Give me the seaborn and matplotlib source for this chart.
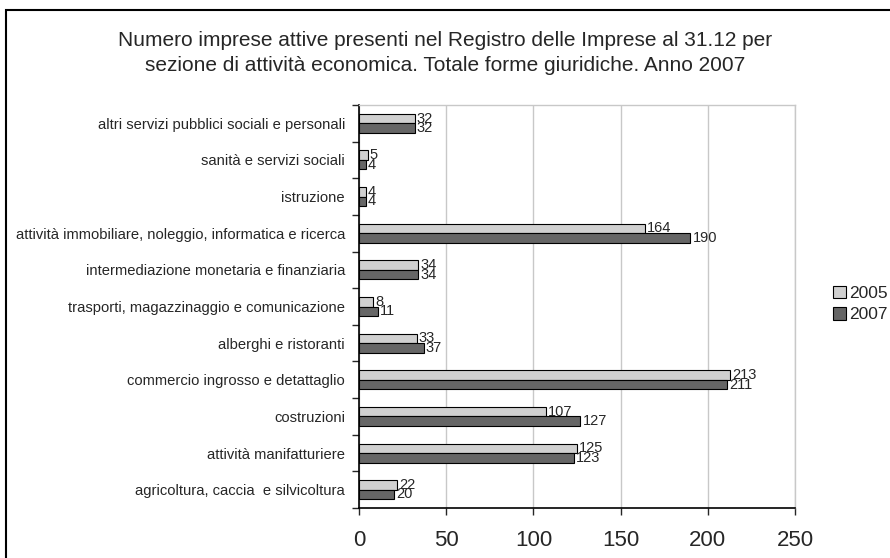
import numpy as np
import pandas as pd
import matplotlib
matplotlib.use("Agg")
import matplotlib.pyplot as plt
from matplotlib.patches import Rectangle
import seaborn as sns

categories = ["altri servizi pubblici sociali e personali",
	"sanità e servizi sociali",
	"istruzione",
	"attività immobiliare, noleggio, informatica e ricerca",
	"intermediazione monetaria e finanziaria",
	"trasporti, magazzinaggio e comunicazione",
	"alberghi e ristoranti",
	"commercio ingrosso e detattaglio",
	"costruzioni",
	"attività manifatturiere",
	"agricoltura, caccia  e silvicoltura"]
val2005 = [32, 5, 4, 164, 34, 8, 33, 213, 107, 125, 22]
val2007 = [32, 4, 4, 190, 34, 11, 37, 211, 127, 123, 20]
years = ["2005", "2007"]
xticks = [0, 50, 100, 150, 200, 250]
title = ("Numero imprese attive presenti nel Registro delle Imprese al 31.12 per\n"
	"sezione di attività economica. Totale forme giuridiche. Anno 2007")

sns.set_style("white")
plt.rcParams.update({'font.family': ['Liberation Sans', 'DejaVu Sans']})

df = pd.DataFrame({"cat": categories * 2,
	"val": val2005 + val2007,
	"anno": [years[0]] * len(categories) + [years[1]] * len(categories)})
colordic = {"2005": "#d0d0d0", "2007": "#666666"}

fig = plt.figure(figsize=(8.9, 5.58), dpi=100)
ax = fig.add_axes([359/890, 1-508/558, (795-359)/890, (508-105)/558])
sns.barplot(data=df, y="cat", x="val", hue="anno", order=categories, hue_order=years,
	palette=colordic, orient="h", width=0.52, edgecolor="black", linewidth=0.8,
	saturation=1, legend=True, ax=ax)

for cont in ax.containers:
	ax.bar_label(cont, padding=1.5, fontsize=10.5)

ax.set_xlim(0, 250)
ax.set_ylim(len(categories) - 0.5, -0.5)
ax.set_xticks(xticks)
ax.set_xticklabels([str(t) for t in xticks], fontsize=16)
ax.set_xlabel("")
ax.set_ylabel("")
ax.tick_params(axis="y", length=0, labelsize=10.6, pad=10)
ax.set_yticks(np.arange(len(categories) + 1) - 0.5, minor=True)
ax.tick_params(axis="y", which="minor", length=5, width=1, direction="out", left=True)
ax.tick_params(axis="x", length=5, width=1, direction="out", bottom=True, pad=11)
ax.xaxis.grid(True, color="#c8c8c8", linewidth=1)
ax.set_axisbelow(True)
for s in ["left", "bottom"]:
	ax.spines[s].set_color("black")
	ax.spines[s].set_linewidth(1.2)
for s in ["top", "right"]:
	ax.spines[s].set_color("#c8c8c8")
	ax.spines[s].set_linewidth(1)

leg = ax.get_legend()
handles = leg.legend_handles
leg.remove()
fig.legend(handles, years, loc="center left", bbox_to_anchor=(824/890, 1-304/558),
	frameon=False, fontsize=12.5, handlelength=0.75, handleheight=0.75,
	handletextpad=0.2, labelspacing=0.35, borderpad=0)

fig.text(0.5, 1-53/558, title, ha="center", va="center", fontsize=15, linespacing=1.35)
fig.patches.append(Rectangle((6/890, -0.05), 1.1, 1-10/558+0.05, transform=fig.transFigure,
	fill=False, edgecolor="black", linewidth=1.5))

plt.savefig("out.png", dpi=100)
